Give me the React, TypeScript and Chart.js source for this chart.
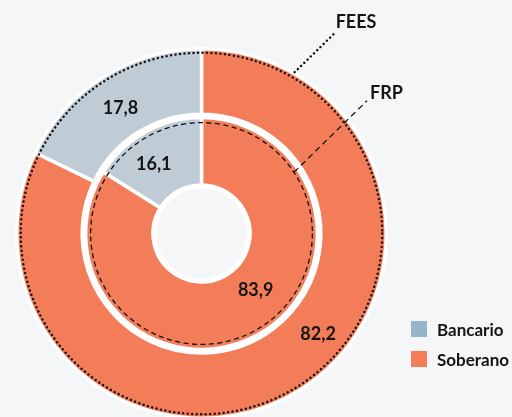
import React, { useEffect, useRef } from "react";
import { Chart, registerables } from "chart.js";

Chart.register(...registerables);

// ---------- data ----------
const categories = ["Soberano", "Bancario"];
const feesValues = [82.2, 17.8];
const frpValues = [83.9, 16.1];
const ringNames = ["FEES", "FRP"];
const legendItems = ["Bancario", "Soberano"];

// ---------- styles ----------
const BG = "#f5f6f8";
const SLICE_COLORS = ["#f37d59", "#bfcbd5"];
const LEGEND_COLORS: Record<string, string> = { Bancario: "#98b4c9", Soberano: "#f37d59" };
const TEXT = "#151515";
const FONT = 'Lato, "Open Sans", sans-serif';

// label placement inside arcs: [fraction along arc, fraction across ring]
const LABEL_POS = {
  outer: [[0.441, 0.52], [0.49, 0.47]],
  inner: [[0.449, 0.43], [0.41, 0.54]],
};

const fmt = (v: number) => v.toFixed(1).replace(".", ",");

const overlayPlugin = {
  id: "overlay",
  afterDatasetsDraw(chart: any) {
    const ctx = chart.ctx as CanvasRenderingContext2D;
    const outerArcs = chart.getDatasetMeta(0).data;
    const innerArcs = chart.getDatasetMeta(2).data;
    const o0 = outerArcs[0].getProps(["x", "y", "outerRadius", "innerRadius"], true);
    const i0 = innerArcs[0].getProps(["x", "y", "outerRadius", "innerRadius"], true);
    const cx = o0.x, cy = o0.y;

    ctx.save();
    // white ring around the hole
    ctx.strokeStyle = "#ffffff";
    ctx.lineWidth = 4;
    ctx.beginPath();
    ctx.arc(cx, cy, i0.innerRadius - 1.5, 0, Math.PI * 2);
    ctx.stroke();

    // dotted circle (FEES)
    ctx.strokeStyle = "#111";
    ctx.lineWidth = 2.5;
    ctx.lineCap = "round";
    ctx.setLineDash([0.01, 4.5]);
    ctx.beginPath();
    ctx.arc(cx, cy, o0.outerRadius - 4, 0, Math.PI * 2);
    ctx.stroke();

    // dotted leader line FEES
    const aF = (-60 * Math.PI) / 180;
    const rF = o0.outerRadius + 1.5;
    const sFx = cx + rF * Math.cos(aF), sFy = cy + rF * Math.sin(aF);
    const eFx = sFx + 40, eFy = sFy - 39;
    ctx.beginPath();
    ctx.moveTo(sFx, sFy);
    ctx.lineTo(eFx, eFy);
    ctx.stroke();

    // dashed circle (FRP)
    ctx.lineCap = "butt";
    ctx.lineWidth = 1.3;
    ctx.setLineDash([5, 3.5]);
    ctx.beginPath();
    ctx.arc(cx, cy, i0.outerRadius - 5, 0, Math.PI * 2);
    ctx.stroke();

    // dashed leader line FRP
    const aR = (-33.5 * Math.PI) / 180;
    const rR = i0.outerRadius - 5;
    const sRx = cx + rR * Math.cos(aR), sRy = cy + rR * Math.sin(aR);
    const eRx = sRx + 73, eRy = sRy - 71.5;
    ctx.setLineDash([6, 4]);
    ctx.beginPath();
    ctx.moveTo(sRx, sRy);
    ctx.lineTo(eRx, eRy);
    ctx.stroke();
    ctx.setLineDash([]);

    // ring names
    ctx.fillStyle = TEXT;
    ctx.font = `bold 18px ${FONT}`;
    ctx.textAlign = "left";
    ctx.textBaseline = "alphabetic";
    ctx.fillText(ringNames[0], eFx + 1, eFy - 5);
    ctx.fillText(ringNames[1], eRx + 3, eRy - 2);

    // value labels
    ctx.textAlign = "center";
    ctx.textBaseline = "middle";
    const drawLabels = (arcs: any[], values: number[], pos: number[][]) => {
      arcs.forEach((arc: any, i: number) => {
        const p = arc.getProps(["x", "y", "startAngle", "endAngle", "outerRadius", "innerRadius"], true);
        const ang = p.startAngle + pos[i][0] * (p.endAngle - p.startAngle);
        const r = p.innerRadius + pos[i][1] * (p.outerRadius - p.innerRadius);
        ctx.fillText(fmt(values[i]), p.x + r * Math.cos(ang), p.y + r * Math.sin(ang) + 1);
      });
    };
    drawLabels(outerArcs, feesValues, LABEL_POS.outer);
    drawLabels(innerArcs, frpValues, LABEL_POS.inner);
    ctx.restore();
  },
};

export default function App() {
  const ref = useRef<HTMLCanvasElement | null>(null);

  useEffect(() => {
    if (!ref.current) return;
    const chart = new Chart(ref.current, {
      type: "doughnut",
      data: {
        labels: categories,
        datasets: [
          {
            label: ringNames[0],
            data: feesValues,
            backgroundColor: SLICE_COLORS,
            borderColor: "#ffffff",
            borderWidth: 3.5,
            weight: 65.5,
          } as any,
          {
            label: "spacer",
            data: [1],
            backgroundColor: ["#ffffff"],
            borderWidth: 0,
            weight: 3.5,
          } as any,
          {
            label: ringNames[1],
            data: frpValues,
            backgroundColor: SLICE_COLORS,
            borderColor: "#ffffff",
            borderWidth: 3.5,
            weight: 67.5,
          } as any,
        ],
      },
      options: {
        responsive: false,
        animation: false,
        events: [],
        cutout: 48.5,
        hoverOffset: 0,
        layout: { padding: { left: 15, right: 124, top: 47, bottom: 10 } },
        plugins: { legend: { display: false }, tooltip: { enabled: false } },
      } as any,
      plugins: [overlayPlugin],
    });
    return () => chart.destroy();
  }, []);

  return (
    <div
      style={{
        position: "fixed",
        left: 0,
        top: 0,
        width: 512,
        height: 417,
        overflow: "hidden",
        background: BG,
      }}
    >
      <canvas ref={ref} width={512} height={430} style={{ position: "absolute", left: 0, top: 0 }} />
      {legendItems.map((name, i) => (
        <div
          key={name}
          style={{
            position: "absolute",
            left: 411,
            top: 321 + i * 30,
            height: 16,
            display: "flex",
            alignItems: "center",
            fontFamily: FONT,
            fontWeight: 700,
            fontSize: 17,
            color: TEXT,
            whiteSpace: "nowrap",
          }}
        >
          <span
            style={{
              display: "inline-block",
              width: 16,
              height: 16,
              background: LEGEND_COLORS[name],
              marginRight: 10,
            }}
          />
          {name}
        </div>
      ))}
    </div>
  );
}
